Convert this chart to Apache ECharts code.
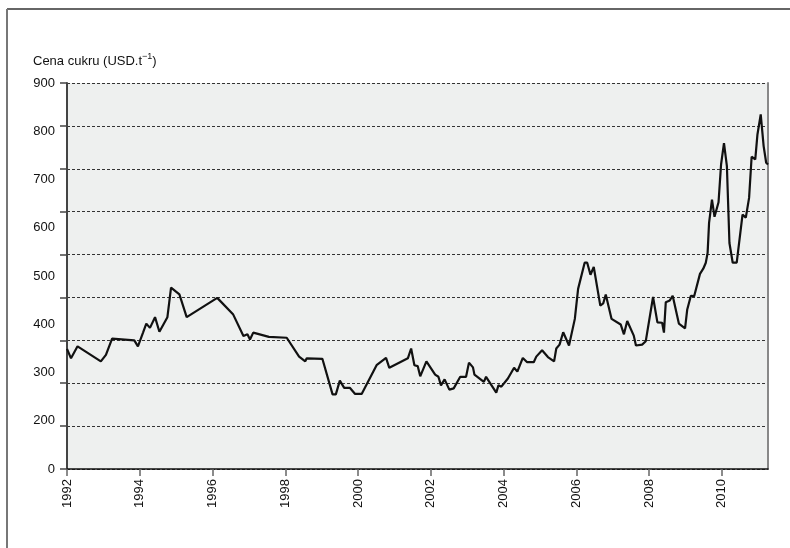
<!DOCTYPE html>
<html>
<head>
<meta charset="utf-8">
<script src="https://cdn.jsdelivr.net/npm/echarts@6/dist/echarts.min.js"></script>
<style>
  html, body { margin: 0; padding: 0; background: #fff; }
  #chart { width: 790px; height: 548px; }
</style>
</head>
<body>
<div id="chart"></div>
<script>
  // cena cukru
  var years = [
    1992.00, 1992.11, 1992.29, 1992.93, 1993.07, 1993.24, 1993.85, 1993.95, 1994.09, 1994.18,
    1994.28, 1994.42, 1994.54, 1994.76, 1994.86, 1995.09, 1995.29, 1996.13, 1996.57, 1996.85,
    1996.96, 1997.03, 1997.12, 1997.55, 1998.04, 1998.38, 1998.55, 1998.59, 1999.02, 1999.30,
    1999.39, 1999.50, 1999.62, 1999.78, 1999.92, 2000.10, 2000.51, 2000.77, 2000.86, 2001.37,
    2001.46, 2001.55, 2001.64, 2001.71, 2001.88, 2002.12, 2002.21, 2002.28, 2002.38, 2002.51,
    2002.63, 2002.81, 2002.97, 2003.05, 2003.16, 2003.20, 2003.46, 2003.52, 2003.80, 2003.86,
    2003.94, 2004.12, 2004.29, 2004.38, 2004.53, 2004.65, 2004.83, 2004.90, 2005.06, 2005.22,
    2005.39, 2005.45, 2005.54, 2005.64, 2005.80, 2005.96, 2006.05, 2006.23, 2006.30, 2006.39,
    2006.48, 2006.66, 2006.74, 2006.81, 2006.97, 2007.22, 2007.31, 2007.40, 2007.58, 2007.64,
    2007.81, 2007.91, 2008.11, 2008.23, 2008.36, 2008.41, 2008.46, 2008.57, 2008.65, 2008.82,
    2008.99, 2009.05, 2009.15, 2009.24, 2009.40, 2009.49, 2009.56, 2009.61, 2009.65, 2009.73,
    2009.80, 2009.91, 2009.98, 2010.06, 2010.14, 2010.21, 2010.30, 2010.41, 2010.57, 2010.66,
    2010.75, 2010.82, 2010.92, 2010.98, 2011.07, 2011.15, 2011.22, 2011.27
  ];
  var prices = [
    280, 258, 286, 251, 266, 304, 300, 286, 318, 339,
    329, 354, 320, 354, 423, 407, 354, 399, 360, 310,
    314, 302, 318, 308, 306, 262, 251, 258, 257, 174,
    174, 206, 189, 189, 175, 175, 242, 259, 236, 258,
    281, 242, 240, 216, 251, 220, 215, 195, 209, 185,
    188, 215, 215, 248, 237, 220, 203, 215, 178, 195,
    192, 211, 236, 227, 259, 249, 249, 262, 277, 261,
    251, 281, 290, 319, 288, 350, 420, 481, 481, 453,
    471, 381, 386, 407, 350, 337, 314, 345, 311, 288,
    290, 298, 401, 342, 341, 318, 389, 393, 404, 339,
    328, 372, 404, 403, 455, 467, 481, 504, 574, 628,
    588, 622, 710, 760, 706, 527, 481, 481, 593, 586,
    632, 728, 722, 780, 827, 753, 714, 710
  ];
  var xTicks = [1992, 1994, 1996, 1998, 2000, 2002, 2004, 2006, 2008, 2010];
  var yTickLabels = ['0', '200', '300', '400', '500', '600', '700', '800', '900'];

  var font = '"Liberation Sans", Arial, sans-serif';
  var fs = 13;

  var chart = echarts.init(document.getElementById('chart'));
  var data = years.map(function (y, i) { return [y, prices[i]]; });

  var option = {
    animation: false,
    textStyle: { fontFamily: font },
    grid: {
      left: 67, top: 83, width: 701, height: 386,
      show: true, backgroundColor: '#eef0ef', borderWidth: 0
    },
    graphic: [
      { type: 'line', shape: { x1: 7, y1: 9, x2: 800, y2: 9 }, style: { stroke: '#333', lineWidth: 1.5 } },
      { type: 'line', shape: { x1: 7, y1: 9, x2: 7, y2: 560 }, style: { stroke: '#777', lineWidth: 2 } },
      {
        type: 'text', left: 33, top: 52,
        style: {
          text: '{a|Cena cukru (USD.t}{sup|−1}{a|)}',
          rich: {
            a: { fontSize: fs, fontFamily: font, lineHeight: 18, verticalAlign: 'middle', fill: '#111' },
            sup: { fontSize: 9, fontFamily: font, lineHeight: 9, verticalAlign: 'top', fill: '#111' }
          },
          fill: '#111'
        }
      }
    ],
    xAxis: {
      type: 'value', min: 1992, max: 2011.27,
      axisLine: { lineStyle: { color: '#111', width: 1.5 } },
      axisTick: { customValues: xTicks, length: 7, lineStyle: { color: '#666', width: 1.5 } },
      axisLabel: {
        customValues: xTicks, rotate: 90, margin: 10,
        fontSize: fs, color: '#111', fontFamily: font,
        formatter: function (v) { return String(v); }
      },
      splitLine: { show: false }
    },
    yAxis: [
      {
        type: 'value', min: 0, max: 900, interval: 100,
        axisLine: { show: true, lineStyle: { color: '#444', width: 2 } },
        axisTick: { show: true, length: 7, lineStyle: { color: '#444', width: 1.5 } },
        axisLabel: { show: false },
        splitLine: { show: true, lineStyle: { color: '#333', width: 1, type: [3, 2] } }
      },
      {
        type: 'value', min: 0, max: 8, interval: 1, position: 'left',
        axisLine: { show: false }, axisTick: { show: false }, splitLine: { show: false },
        axisLabel: {
          margin: 12, fontSize: fs, color: '#111', fontFamily: font,
          formatter: function (v) { return yTickLabels[v]; }
        }
      },
      {
        type: 'value', min: 0, max: 900, position: 'right',
        axisLine: { show: true, lineStyle: { color: '#888', width: 2 } },
        axisTick: { show: false }, axisLabel: { show: false }, splitLine: { show: false }
      }
    ],
    series: [{
      type: 'line',
      data: data,
      showSymbol: false,
      lineStyle: { color: '#111', width: 2.2 }
    }]
  };
  chart.setOption(option);
</script>
</body>
</html>
